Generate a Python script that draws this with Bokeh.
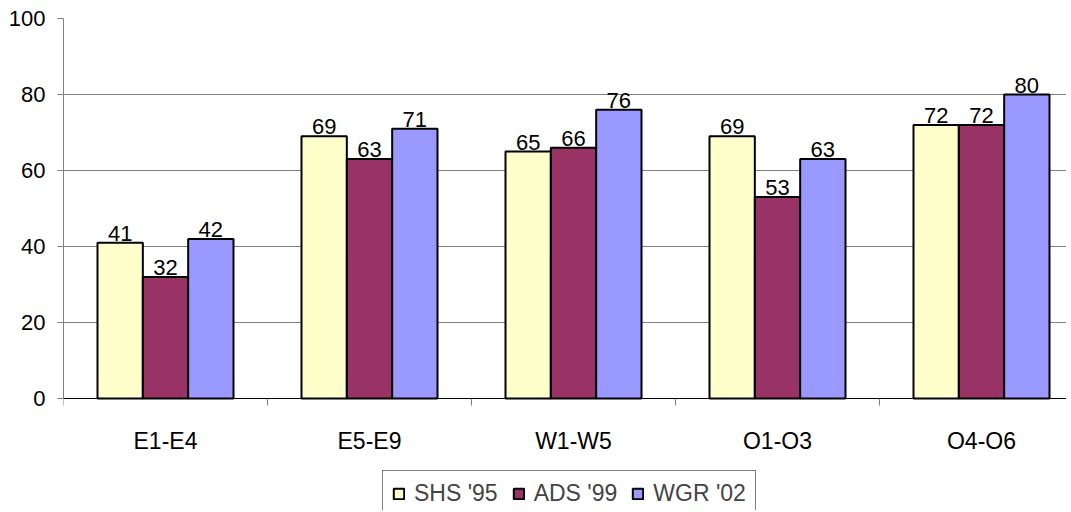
import numpy as np
from bokeh.plotting import figure
from bokeh.models import Range1d, FixedTicker, Legend, LegendItem
from bokeh.core.properties import value
from bokeh.embed import file_html
from bokeh.resources import INLINE

categories = ["E1-E4", "E5-E9", "W1-W5", "O1-O3", "O4-O6"]
series_names = ["SHS '95", "ADS '99", "WGR '02"]
shs_95 = [41, 69, 65, 69, 72]
ads_99 = [32, 63, 66, 53, 72]
wgr_02 = [42, 71, 76, 63, 80]
y_ticks = [0, 20, 40, 60, 80, 100]
colors = ["#FFFFCC", "#993366", "#9999FF"]

FONT = "Liberation Sans"

W, H = 1066, 510
LEFT, TOP = 63, 18
FRAME_W = W - LEFT
FRAME_H = H - TOP
PX_PER_UNIT = 380 / 100          # pixels per y unit in the reference
CAT_PX = 204                      # pixels per category in the reference
y_start = -(FRAME_H - 380) / PX_PER_UNIT

p = figure(width=W, height=H,
           x_range=Range1d(0, FRAME_W / CAT_PX), y_range=Range1d(y_start, 100),
           output_backend="svg", toolbar_location=None,
           min_border_left=LEFT, min_border_right=0, min_border_top=TOP, min_border_bottom=0)
p.outline_line_color = None
p.background_fill_color = "white"
p.border_fill_color = "white"

centers = np.arange(len(categories)) + 0.5
bw = 1 / 4.5

renderers = []
for i, (name, vals) in enumerate(zip(series_names, [shs_95, ads_99, wgr_02])):
    xs = centers + (i - 1) * bw
    r = p.vbar(x=xs, top=vals, width=bw, bottom=0, fill_color=colors[i],
               line_color="black", line_width=2)
    renderers.append((name, r))
    p.text(x=xs, y=vals, text=[str(v) for v in vals], text_align="center",
           text_baseline="bottom", y_offset=-2, text_font=value(FONT),
           text_font_size="22px", text_color="black")

# x axis drawn at y = 0 inside the frame
p.xaxis.fixed_location = 0
p.xaxis.ticker = FixedTicker(ticks=list(centers), minor_ticks=list(range(len(categories) + 1)))
p.xaxis.major_label_overrides = {float(c): cat for c, cat in zip(centers, categories)}
p.xaxis.major_tick_out = 0
p.xaxis.major_tick_in = 0
p.xaxis.minor_tick_out = 7
p.xaxis.minor_tick_in = 0
p.xaxis.minor_tick_line_color = "#808080"
p.xaxis.axis_line_color = "black"
p.xaxis.axis_line_width = 1
p.xaxis.major_label_standoff = 22
p.xaxis.major_label_text_font = FONT
p.xaxis.major_label_text_font_size = "23px"
p.xaxis.major_label_text_color = "black"
p.xgrid.grid_line_color = None

# y axis
p.yaxis.bounds = (0, 100)
p.yaxis.ticker = FixedTicker(ticks=y_ticks)
p.yaxis.major_tick_out = 6
p.yaxis.major_tick_in = 0
p.yaxis.minor_tick_line_color = None
p.yaxis.major_tick_line_color = "#808080"
p.yaxis.axis_line_color = "#808080"
p.yaxis.major_label_standoff = 12
p.yaxis.major_label_text_font = FONT
p.yaxis.major_label_text_font_size = "22px"
p.yaxis.major_label_text_color = "black"
p.ygrid.grid_line_color = "#808080"
p.ygrid.grid_line_width = 1

legend = Legend(items=[LegendItem(label=n, renderers=[r]) for n, r in renderers],
                orientation="horizontal", location=(319, -7),
                label_text_font=FONT, label_text_font_size="23px",
                glyph_width=13, glyph_height=13, spacing=14, label_standoff=9,
                padding=9, margin=0, border_line_color="black", border_line_width=1,
                background_fill_alpha=1)
p.add_layout(legend, "center")

open("out.html", "w").write(file_html(p, INLINE))
